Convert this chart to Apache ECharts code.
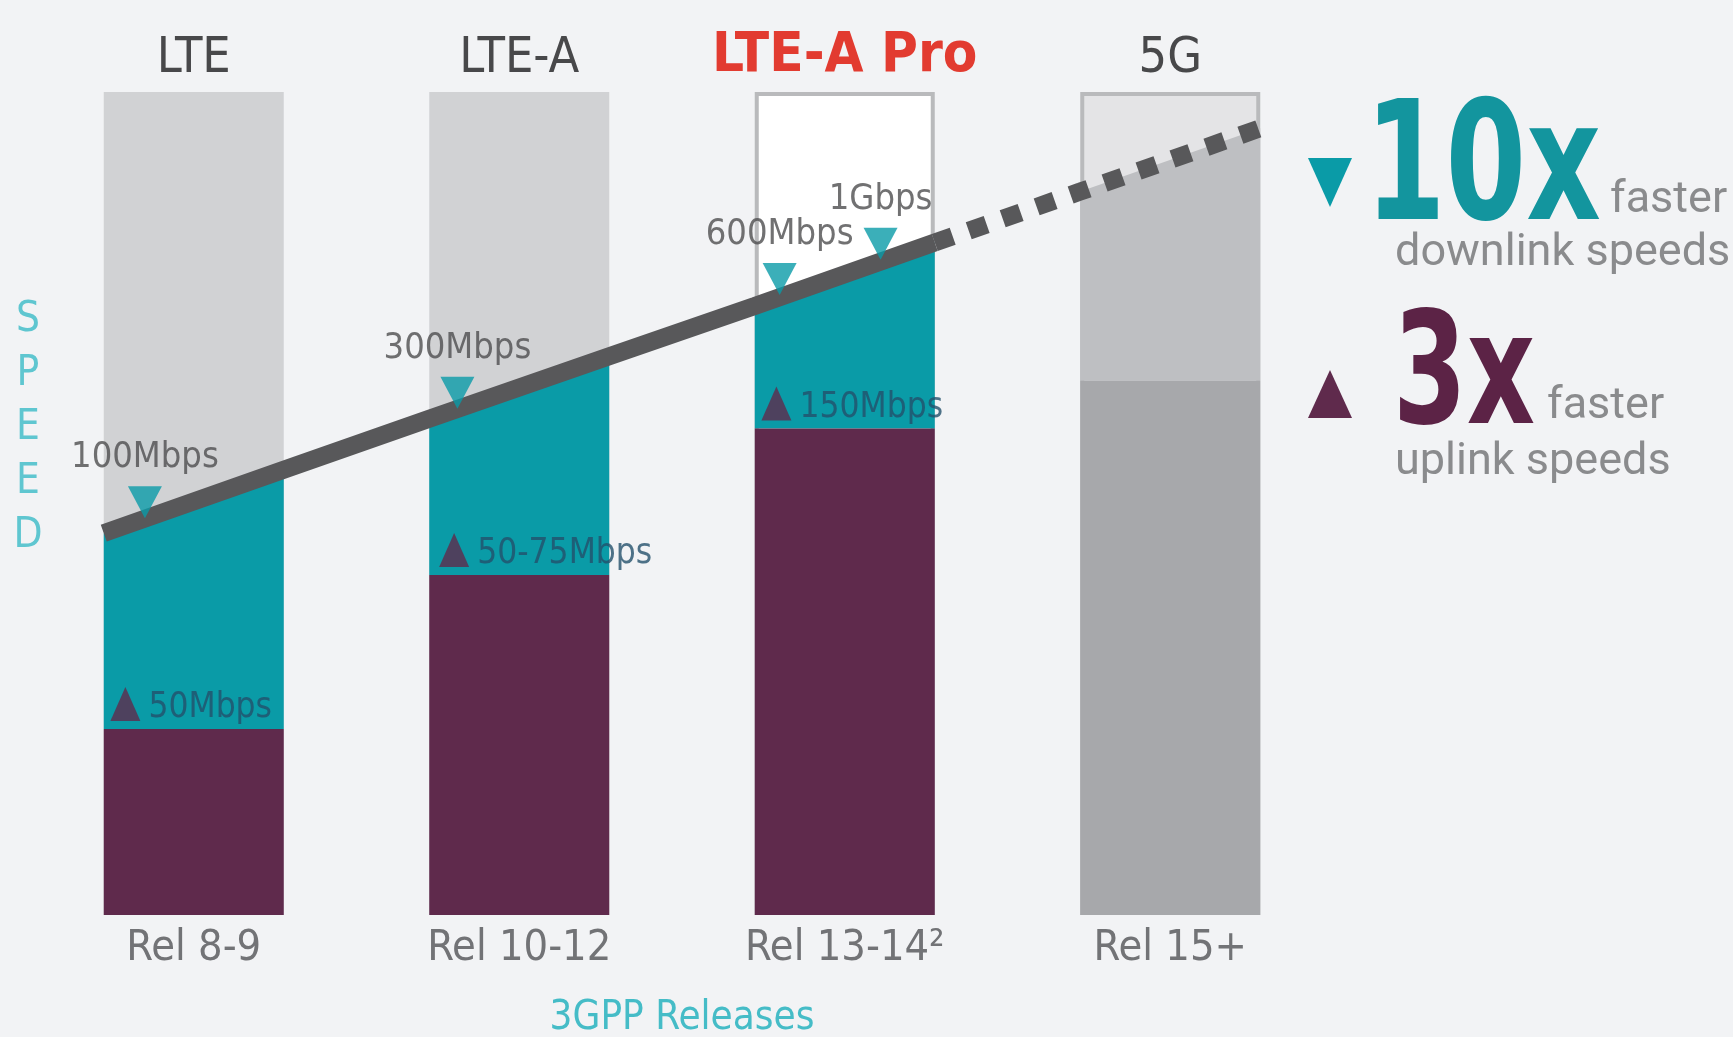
<!DOCTYPE html>
<html>
<head>
<meta charset="utf-8">
<title>LTE to 5G speeds</title>
<script src="https://cdn.jsdelivr.net/npm/echarts@6/dist/echarts.min.js"></script>
<style>
  html, body { margin: 0; padding: 0; background: #f2f3f5; }
  #chart { width: 1733px; height: 1037px; }
</style>
</head>
<body>
<div id="chart"></div>
<script>
const releases = ['Rel 8-9', 'Rel 10-12', 'Rel 13-14²', 'Rel 15+']
const generations = ['LTE', 'LTE-A', 'LTE-A Pro', '5G']
// column heights in % of the full column
const uplinkLevel = [22.6, 41.3, 59.1, 64.9]
// downlink trend, value at left / right edge of each column
const downlinkEdge = [46.4, 54.1, 60.3, 67.9, 74.0, 81.7, 87.9, 95.6]
const downlinkLabels = ['100Mbps', '300Mbps', '600Mbps', '1Gbps']
const downlinkSpot = [-0.15, 0.81, 1.8, 2.11] // along the release axis
const downlinkValue = [48.1, 61.4, 75.2, 79.5]
const uplinkLabels = ['50Mbps', '50-75Mbps', '150Mbps']
const uplinkSpot = [-0.21, 0.8, 1.79]

const TEAL = '#0a9ba7'
const PURPLE = '#5f2a4c'
const LINE = '#58585a'
const NARROW = "'Liberation Sans Narrow', 'DejaVu Sans Condensed', Roboto, sans-serif"
const PLAIN = "Roboto, 'Liberation Sans', sans-serif"

const GRID_LEFT = 31
const GRID_RIGHT = 400
const BAR_W = 180
const band = (1733 - GRID_LEFT - GRID_RIGHT) / releases.length
const half = BAR_W / 2 / band

const edgeX = k => Math.floor(k / 2) + (k % 2 ? half : -half)
const solidLine = downlinkEdge.slice(0, 6).map((v, k) => [edgeX(k), v])
const dottedLine = downlinkEdge.slice(5).map((v, j) => [edgeX(j + 5), v])

const chart = echarts.init(document.getElementById('chart'))

chart.setOption({
  backgroundColor: '#f2f3f5',
  animation: false,
  grid: { left: GRID_LEFT, right: GRID_RIGHT, top: 92, bottom: 122, outerBoundsMode: 'none' },
  xAxis: [{
    type: 'category',
    data: releases,
    position: 'bottom',
    axisLine: { show: false },
    axisTick: { show: false },
    axisLabel: { fontSize: 43, color: '#727376', fontFamily: NARROW, margin: 12 },
    name: '3GPP Releases',
    nameLocation: 'middle',
    nameGap: 84,
    nameTextStyle: { fontSize: 40, color: '#45bcc7', fontFamily: NARROW }
  }, {
    type: 'category',
    data: generations,
    position: 'top',
    axisLine: { show: false },
    axisTick: { show: false },
    axisLabel: {
      margin: 8,
      formatter: (v, i) => i === 2 ? '{pro|' + v + '}' : '{gen|' + v + '}',
      rich: {
        gen: { fontSize: 50, color: '#48484a', fontFamily: NARROW },
        pro: { fontSize: 56, fontWeight: 'bold', color: '#e23b30', fontFamily: NARROW }
      }
    }
  }, {
    type: 'value',
    min: -0.5,
    max: 3.5,
    show: false
  }],
  yAxis: { type: 'value', min: 0, max: 100, show: false },
  series: [{
    // empty column behind everything
    type: 'bar',
    xAxisIndex: 0,
    z: 1,
    barWidth: BAR_W,
    barGap: '-100%',
    silent: true,
    data: [
      { value: 100, itemStyle: { color: '#d1d2d4' } },
      { value: 100, itemStyle: { color: '#d1d2d4' } },
      { value: 100, itemStyle: { color: '#ffffff', borderColor: '#b9babc', borderWidth: 4 } },
      { value: 100, itemStyle: { color: '#e4e4e6', borderColor: '#b9babc', borderWidth: 4 } }
    ]
  }, {
    // downlink fill, top follows the trend line
    type: 'custom',
    xAxisIndex: 0,
    z: 2,
    data: releases.map((r, i) => [i, uplinkLevel[i], downlinkEdge[2 * i], downlinkEdge[2 * i + 1]]),
    renderItem: (params, api) => {
      const i = api.value(0)
      const cx = api.coord([i, 0])[0]
      const yLow = api.coord([i, api.value(1)])[1]
      const yL = api.coord([i, api.value(2)])[1]
      const yR = api.coord([i, api.value(3)])[1]
      return {
        type: 'polygon',
        shape: { points: [[cx - BAR_W / 2, yLow], [cx + BAR_W / 2, yLow], [cx + BAR_W / 2, yR], [cx - BAR_W / 2, yL]] },
        style: { fill: i === 3 ? '#bebfc2' : TEAL }
      }
    }
  }, {
    type: 'bar',
    xAxisIndex: 0,
    z: 3,
    barWidth: BAR_W,
    barGap: '-100%',
    data: uplinkLevel.map((v, i) => ({ value: v, itemStyle: { color: i === 3 ? '#a7a8ab' : PURPLE } }))
  }, {
    type: 'line',
    xAxisIndex: 2,
    z: 4,
    showSymbol: false,
    data: solidLine,
    lineStyle: { color: LINE, width: 18 }
  }, {
    type: 'line',
    xAxisIndex: 2,
    z: 4,
    showSymbol: false,
    data: dottedLine,
    lineStyle: { color: LINE, width: 18, type: [19, 17] }
  }, {
    type: 'scatter',
    xAxisIndex: 2,
    z: 5,
    symbol: 'path://M0,0 L2,0 L1,2 Z',
    symbolSize: [34, 32],
    symbolOffset: [0, -17],
    itemStyle: { color: TEAL },
    label: {
      show: true,
      position: 'top',
      distance: 10,
      formatter: '{b}',
      fontSize: 36,
      color: '#4d4d4f',
      fontFamily: NARROW
    },
    data: downlinkSpot.map((x, i) => ({ name: downlinkLabels[i], value: [x, downlinkValue[i]] }))
  }, {
    type: 'scatter',
    xAxisIndex: 2,
    z: 5,
    symbol: 'triangle',
    symbolSize: [30, 34],
    symbolOffset: [0, -25],
    itemStyle: { color: PURPLE },
    label: {
      show: true,
      position: 'right',
      distance: 8,
      offset: [0, 4],
      formatter: '{b}',
      fontSize: 35,
      color: '#23506b',
      fontFamily: NARROW
    },
    data: uplinkSpot.map((x, i) => ({ name: uplinkLabels[i], value: [x, uplinkLevel[i]] }))
  }],
  graphic: [
    {
      type: 'text', x: 28, y: 428,
      style: {
        text: 'S\nP\nE\nE\nD', fill: '#5fc6d0', font: '42px ' + NARROW,
        lineHeight: 54, align: 'center', verticalAlign: 'middle'
      }
    },
    { type: 'polygon', shape: { points: [[1308, 158], [1352, 158], [1330, 207]] }, style: { fill: TEAL } },
    {
      type: 'text', x: 1365, y: 176, scaleX: 0.78,
      style: { text: '10x', fill: '#13959e', font: 'bold 165px ' + NARROW, verticalAlign: 'middle' }
    },
    {
      type: 'text', x: 1610, y: 201,
      style: { text: 'faster', fill: '#8a8b8d', font: '45px ' + PLAIN, verticalAlign: 'middle' }
    },
    {
      type: 'text', x: 1395, y: 254,
      style: { text: 'downlink speeds', fill: '#8a8b8d', font: '45px ' + PLAIN, verticalAlign: 'middle' }
    },
    { type: 'polygon', shape: { points: [[1308, 418], [1352, 418], [1330, 370]] }, style: { fill: PURPLE } },
    {
      type: 'text', x: 1393, y: 383, scaleX: 0.76,
      style: { text: '3x', fill: '#5c2346', font: 'bold 155px ' + NARROW, verticalAlign: 'middle' }
    },
    {
      type: 'text', x: 1547, y: 407,
      style: { text: 'faster', fill: '#8a8b8d', font: '45px ' + PLAIN, verticalAlign: 'middle' }
    },
    {
      type: 'text', x: 1395, y: 463,
      style: { text: 'uplink speeds', fill: '#8a8b8d', font: '45px ' + PLAIN, verticalAlign: 'middle' }
    }
  ]
})
</script>
</body>
</html>
